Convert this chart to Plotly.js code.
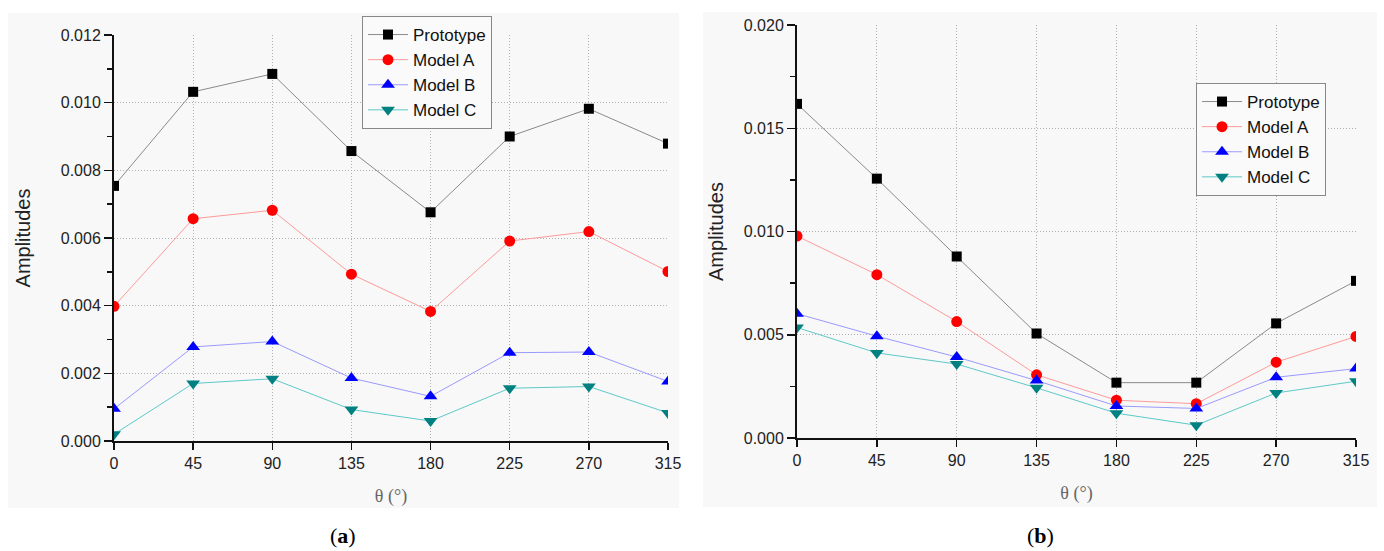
<!DOCTYPE html>
<html>
<head>
<meta charset="utf-8">
<script src="https://cdn.plot.ly/plotly-3.0.1.min.js"></script>
<style>
html,body{margin:0;padding:0;background:#fff;}
#chart{width:1384px;height:551px;}
</style>
</head>
<body>
<div id="chart"></div>
<script>
// ---- data ----
const theta = [0, 45, 90, 135, 180, 225, 270, 315];
const tickLabels = ['0', '45', '90', '135', '180', '225', '270', '315'];
const seriesNames = ['Prototype', 'Model A', 'Model B', 'Model C'];

// panel (a)
const aPrototype = [0.00754, 0.01032, 0.01085, 0.00857, 0.00676, 0.00900, 0.00982, 0.00879];
const aModelA    = [0.00398, 0.00657, 0.00682, 0.00493, 0.00383, 0.00591, 0.00619, 0.00501];
const aModelB    = [0.00095, 0.00278, 0.00294, 0.00186, 0.00132, 0.00261, 0.00263, 0.00176];
const aModelC    = [0.00020, 0.00170, 0.00184, 0.00093, 0.00059, 0.00156, 0.00161, 0.00083];

// panel (b)
const bPrototype = [0.01618, 0.01256, 0.00879, 0.00506, 0.00268, 0.00268, 0.00555, 0.00761];
const bModelA    = [0.00978, 0.00791, 0.00564, 0.00306, 0.00183, 0.00166, 0.00367, 0.00492];
const bModelB    = [0.00602, 0.00493, 0.00392, 0.00278, 0.00155, 0.00143, 0.00294, 0.00336];
const bModelC    = [0.00535, 0.00412, 0.00358, 0.00243, 0.00120, 0.00062, 0.00218, 0.00275];

// ---- styles ----
const lineColors   = ['#8a8a8a', '#ff9a9a', '#9a9aff', '#5ec8c8'];
const markerColors = ['#000000', '#ff0000', '#0000ff', '#008080'];
const symbols      = ['square', 'circle', 'triangle-up', 'triangle-down'];
const sizes        = [10, 11, 12, 12];

const W = 1384, H = 551;
const px = v => v / W;
const py = v => (H - v) / H;

function mk(xs, ys, i, xa, ya, leg) {
  return {
    x: xs, y: ys, type: 'scatter', mode: 'lines+markers',
    name: seriesNames[i], xaxis: xa, yaxis: ya, legend: leg,
    line: {color: lineColors[i], width: 1},
    marker: {color: markerColors[i], symbol: symbols[i], size: sizes[i], line: {width: 0}}
  };
}

const aSeries = [aPrototype, aModelA, aModelB, aModelC];
const bSeries = [bPrototype, bModelA, bModelB, bModelC];
const data = [];
aSeries.forEach((s, i) => data.push(mk(theta, s, i, 'x', 'y', 'legend')));
bSeries.forEach((s, i) => data.push(mk(theta, s, i, 'x2', 'y2', 'legend2')));

const sans = 'Liberation Sans, Arial, sans-serif';
const serif = 'Liberation Serif, DejaVu Serif, serif';
const tickFont = {family: sans, size: 16, color: '#222'};
function xAxis(domain, anchor) {
  return {
    domain: domain, anchor: anchor, range: [0, 315],
    tickvals: theta, ticktext: tickLabels,
    showline: true, linecolor: '#111', linewidth: 2, mirror: false,
    ticks: 'outside', ticklen: 7, tickcolor: '#111', tickwidth: 1.5,
    showgrid: true, gridcolor: '#b0b0b0', griddash: '1px,2px', gridwidth: 1,
    zeroline: false, tickfont: tickFont, fixedrange: true,
    title: {text: 'θ (°)', font: {family: serif, size: 18, color: '#666'}, standoff: 18}
  };
}
function yAxis(domain, anchor, range, dtick, minorDtick, standoff) {
  return {
    domain: domain, anchor: anchor, range: range, dtick: dtick, tick0: 0,
    tickformat: '.3f',
    showline: true, linecolor: '#111', linewidth: 2,
    ticks: 'outside', ticklen: 8, tickcolor: '#111', tickwidth: 1.5,
    minor: {dtick: minorDtick, ticks: 'outside', ticklen: 5, tickcolor: '#111', tickwidth: 1.5, showgrid: false},
    showgrid: true, gridcolor: '#b0b0b0', griddash: '1px,2px', gridwidth: 1,
    zeroline: false, tickfont: tickFont, fixedrange: true,
    title: {text: 'Amplitudes', font: {family: sans, size: 20, color: '#222'}, standoff: standoff}
  };
}

const legFont = {family: sans, size: 17, color: '#111'};

const layout = {
  width: W, height: H,
  margin: {l: 0, r: 0, t: 0, b: 0},
  paper_bgcolor: '#ffffff',
  plot_bgcolor: 'rgba(0,0,0,0)',
  showlegend: true,
  xaxis: xAxis([px(114), px(668)], 'y'),
  yaxis: yAxis([py(441), py(35)], 'x', [0, 0.012], 0.002, 0.001, 25),
  xaxis2: xAxis([px(797), px(1356)], 'y2'),
  yaxis2: yAxis([py(438), py(25)], 'x2', [0, 0.020], 0.005, 0.0025, 15),
  legend: {
    x: px(362), y: py(16), xanchor: 'left', yanchor: 'top',
    bgcolor: '#fafafa', bordercolor: '#888', borderwidth: 1,
    font: legFont, tracegroupgap: 0, itemwidth: 40
  },
  legend2: {
    x: px(1196), y: py(83), xanchor: 'left', yanchor: 'top',
    bgcolor: '#fafafa', bordercolor: '#888', borderwidth: 1,
    font: legFont, tracegroupgap: 0, itemwidth: 40
  },
  shapes: [
    {type: 'rect', xref: 'paper', yref: 'paper', x0: px(8), x1: px(679), y0: py(508), y1: py(13),
     fillcolor: '#f8f8f8', line: {width: 0}, layer: 'below'},
    {type: 'rect', xref: 'paper', yref: 'paper', x0: px(703), x1: px(1377), y0: py(507), y1: py(12),
     fillcolor: '#f8f8f8', line: {width: 0}, layer: 'below'}
  ],
  annotations: [
    {text: '(<b>a</b>)', xref: 'paper', yref: 'paper', x: px(343), y: py(535), xanchor: 'center', yanchor: 'middle',
     showarrow: false, font: {family: serif, size: 22, color: '#000'}},
    {text: '(<b>b</b>)', xref: 'paper', yref: 'paper', x: px(1040), y: py(535), xanchor: 'center', yanchor: 'middle',
     showarrow: false, font: {family: serif, size: 22, color: '#000'}}
  ]
};

Plotly.newPlot('chart', data, layout, {displayModeBar: false, staticPlot: true});
</script>
</body>
</html>
